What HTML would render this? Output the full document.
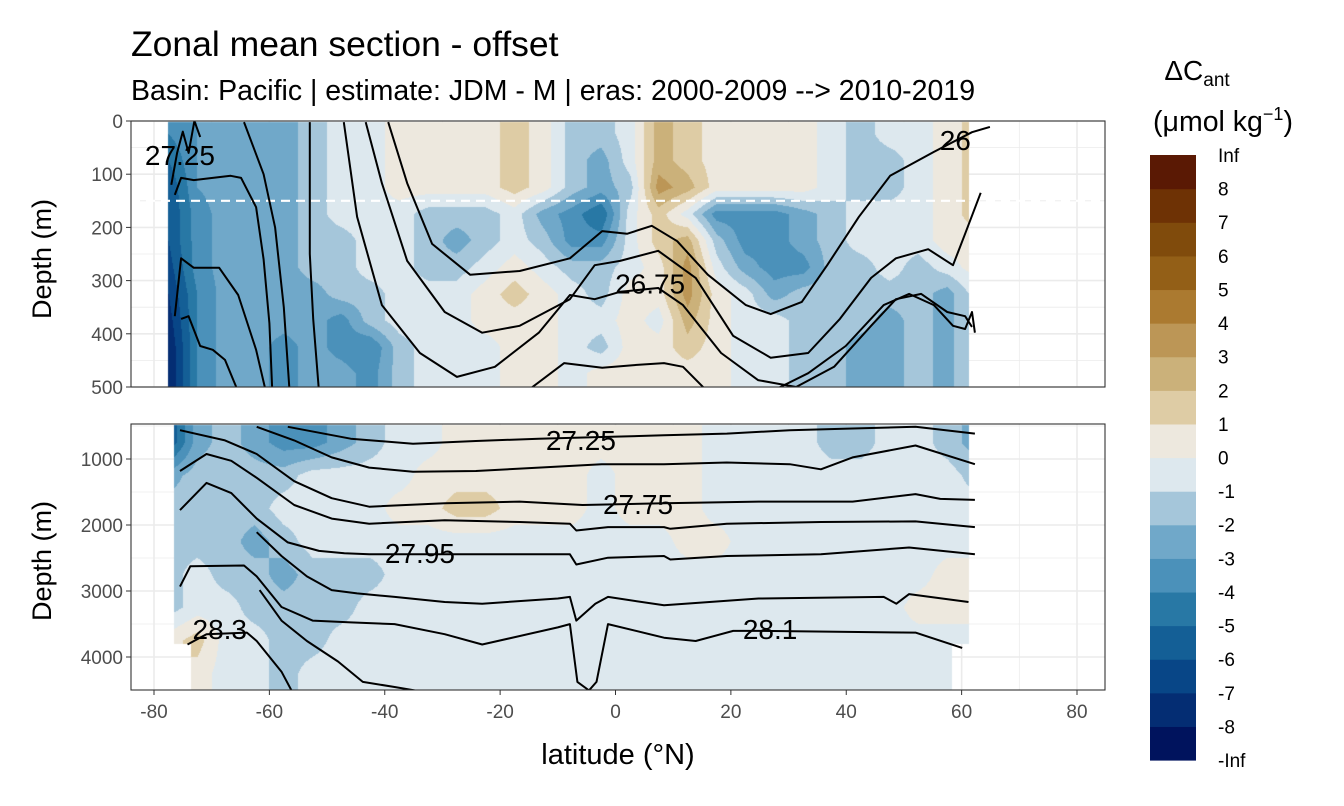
<!DOCTYPE html>
<html><head><meta charset="utf-8">
<style>
body{margin:0;background:#fff;}
#wrap{position:relative;width:1344px;height:806px;overflow:hidden;font-family:"Liberation Sans",sans-serif;}
svg,canvas{position:absolute;left:0;top:0;}
</style></head>
<body>
<div id="wrap">
<svg id="bg" width="1344" height="806"></svg>
<canvas id="cv" width="1344" height="806"></canvas>
<svg id="fg" width="1344" height="806">
<text x="131" y="56" font-size="35.5" fill="#000">Zonal mean section - offset</text>
<text x="131" y="100" font-size="28.5" fill="#000">Basin: Pacific | estimate: JDM - M | eras: 2000-2009 --&gt; 2010-2019</text>
<text x="618" y="764" font-size="29" text-anchor="middle" fill="#000">latitude (°N)</text>
<text transform="translate(51,259) rotate(-90)" font-size="27" text-anchor="middle" fill="#000">Depth (m)</text>
<text transform="translate(51,561) rotate(-90)" font-size="27" text-anchor="middle" fill="#000">Depth (m)</text>
<text x="1197" y="80" font-size="28" text-anchor="middle" fill="#000">ΔC<tspan font-size="19" dy="6">ant</tspan></text>
<text x="1223" y="131" font-size="28.5" text-anchor="middle" fill="#000">(μmol kg<tspan font-size="18" dy="-11">−1</tspan><tspan dy="11">)</tspan></text>
</svg>
</div>
<script>
const NS="http://www.w3.org/2000/svg";
// ---- data ----
const lats=[-77.5,-72.5,-67.5,-62.5,-57.5,-52.5,-47.5,-42.5,-37.5,-32.5,-27.5,-22.5,-17.5,-12.5,-7.5,-2.5,2.5,7.5,12.5,17.5,22.5,27.5,32.5,37.5,42.5,47.5,52.5,57.5,62.5];
const topDepths=[25,75,125,175,225,275,325,375,425,475];
const topValues=[
[-4,-3,-2,-2.5,-2.5,-1.5,-0.5,-0.5,0.5,0.5,0.5,0.5,1.5,0.5,-1.5,-1.5,-0.5,2.5,1.5,0.5,0.5,0.5,0.5,-0.5,-1.5,-0.5,-0.5,0.5,1.5],
[-5,-3,-2.5,-2.5,-2.5,-1.5,-0.5,-0.5,0.5,0.5,0.5,0.5,1.5,0.5,-1.5,-2.5,-0.5,2.5,1.5,0.5,0.5,0.5,0.5,-0.5,-1.5,-1.5,-0.5,0.5,1.5],
[-6,-3,-2.5,-2.5,-2.5,-1.5,-0.5,-0.5,0.5,0.5,0.5,0.5,1.5,0.5,-1.5,-2.5,-1.5,3.5,2.5,0.5,0.5,0.5,0.5,-0.5,-1.5,-1.5,-0.5,0.5,1.5],
[-6,-3.5,-2.5,-2.5,-2.5,-1.5,-0.5,-0.5,-0.5,-1.5,-1.5,-1.5,-0.5,-2.5,-3.5,-5,-0.5,1.5,-0.5,-3.5,-3.5,-3.5,-2.5,-1.5,-0.5,-0.5,-0.5,0.5,1.5],
[-6,-3.5,-2.5,-2.5,-2.5,-1.5,-1.5,-0.5,-0.5,-1.5,-2.5,-1.5,-0.5,-1.5,-3.5,-3.5,-0.5,1.5,2.5,-1.5,-3.5,-3.5,-2.5,-1.5,-0.5,-0.5,-0.5,0.5,0.5],
[-6.5,-3.5,-2.5,-2.5,-2.5,-1.5,-1.5,-0.5,-0.5,-1.5,-1.5,-0.5,0.5,-0.5,-1.5,-1.5,-0.5,0.5,3.5,-0.5,-2.5,-3.5,-3.5,-1.5,-1.5,-0.5,-1.5,-0.5,0.5],
[-7,-4,-2.5,-2.5,-2.5,-2.5,-1.5,-1.5,-0.5,-0.5,-0.5,0.5,1.5,0.5,-0.5,-1.5,0.5,0.5,3.5,0.5,-0.5,-2.5,-1.5,-1.5,-1.5,-1.5,-1.5,-2.5,-0.5],
[-7.5,-4,-2.5,-2.5,-2.5,-2.5,-3.5,-1.5,-0.5,-0.5,-0.5,0.5,0.5,0.5,-0.5,-0.5,0.5,-0.5,2.5,0.5,-0.5,-0.5,-1.5,-1.5,-1.5,-2.5,-1.5,-2.5,-0.5],
[-8,-4,-2.5,-2.5,-3.5,-2.5,-3.5,-4,-1.5,-0.5,-0.5,-0.5,0.5,0.5,-0.5,-1.5,0.5,0.5,1.5,0.5,-0.5,-0.5,-1.5,-1.5,-2.5,-2.5,-1.5,-2.5,-0.5],
[-8,-4,-2.5,-2.5,-3.5,-2.5,-2.5,-3.5,-1.5,-0.5,-0.5,-0.5,0.5,0.5,-0.5,0.5,0.5,0.5,0.5,0.5,-0.5,-0.5,-1.5,-1.5,-2.5,-2.5,-1.5,-2.5,-0.5]];
const botDepths=[750,1250,1750,2250,2750,3250,3750,4250];
const botValues=[
[-6,-2.5,-1.5,-2.5,-3.5,-3.5,-2.5,-1.5,-0.5,-0.5,0.5,0.5,0.5,0.5,0.5,0.5,0.5,0.5,0.5,-0.5,-0.5,-0.5,-0.5,-1.5,-1.5,-0.5,-0.5,-1.5,-2.5],
[-2.5,-1.5,-1.5,-1.5,-1.5,-0.5,-0.5,-0.5,-0.5,0.5,0.5,0.5,0.5,0.5,0.5,-0.5,0.5,0.5,0.5,-0.5,-0.5,-0.5,-0.5,-0.5,-0.5,-0.5,-0.5,-0.5,-1.5],
[-1.5,-1.5,-1.5,-1.5,-0.5,-0.5,-0.5,-0.5,0.5,0.5,1.5,1.5,0.5,0.5,0.5,-0.5,0.5,0.5,0.5,-0.5,-0.5,-0.5,-0.5,-0.5,-0.5,-0.5,-0.5,-0.5,-0.5],
[-1.5,-1.5,-1.5,-2.5,-1.5,-0.5,-0.5,-0.5,-0.5,-0.5,-0.5,-0.5,-0.5,-0.5,-0.5,-0.5,-0.5,-0.5,0.5,0.5,-0.5,-0.5,-0.5,-0.5,-0.5,-0.5,-0.5,-0.5,-0.5],
[-1.5,-0.5,-1.5,-1.5,-2.5,-1.5,-1.5,-1.5,-0.5,-0.5,-0.5,-0.5,-0.5,-0.5,-0.5,-0.5,-0.5,-0.5,-0.5,-0.5,-0.5,-0.5,-0.5,-0.5,-0.5,-0.5,-0.5,0.5,0.5],
[-1.5,-0.5,-0.5,-1.5,-1.5,-1.5,-1.5,-0.5,-0.5,-0.5,-0.5,-0.5,-0.5,-0.5,-0.5,-0.5,-0.5,-0.5,-0.5,-0.5,-0.5,-0.5,-0.5,-0.5,-0.5,-0.5,0.5,0.5,0.5],
[0.5,1.5,-0.5,-0.5,-1.5,-1.5,-0.5,-0.5,-0.5,-0.5,-0.5,-0.5,-0.5,-0.5,-0.5,-0.5,-0.5,-0.5,-0.5,-0.5,-0.5,-0.5,-0.5,-0.5,-0.5,-0.5,-0.5,-0.5,-0.5],
[1.5,0.5,-0.5,-0.5,-1.5,-0.5,-0.5,-0.5,-0.5,-0.5,-0.5,-0.5,-0.5,-0.5,-0.5,-0.5,-0.5,-0.5,-0.5,-0.5,-0.5,-0.5,-0.5,-0.5,-0.5,-0.5,-0.5,-0.5,-0.5]];
const legendLabels=["Inf","8","7","6","5","4","3","2","1","0","-1","-2","-3","-4","-5","-6","-7","-8","-Inf"];
const xTicks=[-80,-60,-40,-20,0,20,40,60,80];
const yTicksTop=[0,100,200,300,400,500];
const yTicksBot=[1000,2000,3000,4000];
// contours top panel
const tA_lat=[-39.4,-36.1,-31.8,-25.2,-16.6,-7.9,-2.3,2.0,6.3,10.7,16.0,22.6,26.9,32.3,36.7,42.2,47.6,55.2,61.8,64.9];
const tA_dep=[2,117,231,289,282,258,207,212,197,226,289,346,363,340,271,180,103,58,21,11];
const tB_lat=[-43.3,-40.5,-36.1,-29.6,-23.1,-16.6,-7.9,-3.6,0.8,7.4,13.9,20.4,26.9,33.4,38.9,44.3,48.6,54.2,58.5,60.6,63.3];
const tB_dep=[2,117,263,359,398,385,335,271,263,244,295,404,445,436,372,295,258,241,271,212,135];
const tC_lat=[-47.1,-44.8,-40.5,-33.9,-27.5,-20.9,-13.3,-7.9,-3.6,0.8,7.4,11.7,18.3,24.7,31.3,37.9,44.3,48.6,53.0,57.5,60.6,61.8];
const tC_dep=[2,180,346,436,481,462,398,327,335,321,314,346,436,487,500,462,385,335,325,359,367,387];
const tD_lat=[-15.5,-8.9,-2.3,3.0,8.4,11.7,16.0];
const tD_dep=[509,455,464,459,455,462,509];
const tE_lat=[26.9,33.4,39.9,46.5,50.9,55.2,58.5,60.6,61.8,62.3];
const tE_dep=[509,474,423,346,325,346,385,391,359,398];
const tL0a_lat=[-76.4,-75.3,-73.1,-66.7,-64.9,-62.3,-61,-60,-59.5];
const tL0a_dep=[139,107,111,103,107,162,260,380,509];
const tL1_lat=[-64.4,-61,-59,-57.5,-56.5];
const tL1_dep=[2,100,200,350,509];
const tL2_lat=[-53,-53,-52.4,-51.4];
const tL2_dep=[2,250,372,509];
const tL0b_lat=[-76.4,-75.3,-73.1,-68.7,-65.4,-62.3,-60.6];
const tL0b_dep=[367,258,276,276,327,430,509];
const tL0c_lat=[-75.3,-74,-72,-69.8,-67.7,-65.4];
const tL0c_dep=[372,367,423,430,449,509];
const tTL_lat=[-77,-76,-75,-74,-73,-72];
const tTL_dep=[120,60,20,60,0,30];
// contours bottom panel
const b1_lat=[-56.8,-45.9,-35.1,-24.2,-13.3,-2.4,8.4,19.3,30.2,41.1,52.0,62.3];
const b1_dep=[512,692,770,728,692,667,641,615,564,538,512,615];
const b2_lat=[-62.2,-55.7,-49.2,-42.7,-35.1,-24.2,-13.3,-2.4,8.4,19.3,30.2,35.6,41.1,52.0,62.3];
const b2_dep=[512,718,976,1130,1192,1182,1130,1079,1079,1053,1079,1156,976,795,1079];
const b3_lat=[-75.5,-67.7,-62.2,-55.7,-49.2,-42.7,-29.6,-16.6,-5.7,8.4,24.8,41.1,52.0,56.3,62.3];
const b3_dep=[564,718,924,1337,1594,1723,1671,1646,1697,1671,1646,1646,1532,1604,1620];
const b4_lat=[-75.5,-70.9,-66.6,-62.2,-55.7,-49.2,-42.7,-29.6,-16.6,-7.9,-6.8,-1.3,8.4,9.5,19.3,35.6,52.0,62.3];
const b4_dep=[1182,924,1027,1285,1697,1903,1981,1929,1955,1981,2084,2032,2032,2058,1981,1955,1945,2032];
const b5_lat=[-75.5,-70.9,-66.6,-62.2,-56.8,-51.4,-47.0,-42.7,-29.6,-7.9,-6.8,-1.3,8.4,9.5,19.3,35.6,50.9,62.3];
const b5_dep=[1775,1362,1517,1903,2264,2393,2429,2444,2444,2444,2599,2496,2470,2522,2470,2444,2341,2444];
const b6_lat=[-62.2,-57.9,-53.5,-49.2,-44.8,-38.3,-29.6,-23.1,-10.0,-7.9,-6.8,-3.5,-1.3,8.4,24.8,46.5,48.7,50.9,61.2];
const b6_dep=[2109,2470,2779,2986,3037,3089,3166,3192,3114,3089,3449,3192,3089,3217,3114,3089,3192,3047,3166];
const b7_lat=[-75.5,-73.7,-64.4,-62.2,-57.9,-52.5,-45.9,-38.3,-29.6,-23.1,-10.0,-7.9,-6.6,-4.6,-3.3,-1.3,8.4,13.9,20.4,24.8,52.0,60.1];
const b7_dep=[2934,2625,2614,2779,3243,3449,3475,3501,3655,3810,3552,3501,4377,4506,4377,3501,3707,3758,3604,3604,3630,3862];
const b8_lat=[-74.2,-70.9,-63.9,-62.2,-57.9,-55.7];
const b8_dep=[3810,3655,3630,3758,4222,4583];
const b9_lat=[-61.7,-57.9,-53.5,-48.1,-43.8,-38.3,-29.6];
const b9_dep=[2986,3449,3758,4068,4377,4454,4583];
// contour label text and positions (lat, depth)
const topLabels=["27.25","26","26.75"];
const topLabelLat=[-75.5,58.9,6.0];
const topLabelDep=[64,36,305];
const botLabels=["27.25","27.75","27.95","28.3","28.1"];
const botLabelLat=[-6.0,3.9,-33.9,-68.6,26.8];
const botLabelDep=[712,1682,2424,3576,3576];
// ---- scales ----
const X=lat=>154+(lat+80)*5.76875;
const Xinv=x=>(x-154)/5.76875-80;
const YT=d=>121+d*266/500;
const YTinv=y=>(y-121)*500/266;
const YB=d=>459+(d-1000)*198/3000;
const YBinv=y=>1000+(y-459)*3000/198;
const PL=131,PR=1105,T1=121,T2=387,B1=424,B2=690;
const cols=[[0,19,93],[4,45,115],[8,70,135],[20,95,150],[40,120,165],[75,145,186],[112,168,201],[165,198,218],[221,232,238],[237,232,222],[222,204,165],[203,177,122],[188,150,86],[171,122,48],[147,95,23],[128,75,12],[110,50,5],[90,25,4]];
function colorOf(v){let i=Math.floor(v)+9;if(i<0)i=0;if(i>17)i=17;return cols[i];}
function sample(vals,depths,lat,d){
  let fi=(lat-lats[0])/5;fi=Math.max(0,Math.min(lats.length-1,fi));
  let fj=(d-depths[0])/(depths[1]-depths[0]);fj=Math.max(0,Math.min(depths.length-1,fj));
  const i0=Math.floor(fi),j0=Math.floor(fj),i1=Math.min(i0+1,lats.length-1),j1=Math.min(j0+1,depths.length-1);
  const a=fi-i0,b=fj-j0;
  return vals[j0][i0]*(1-a)*(1-b)+vals[j0][i1]*a*(1-b)+vals[j1][i0]*(1-a)*b+vals[j1][i1]*a*b;
}
// ---- background grid ----
const bg=document.getElementById('bg');
function el(par,tag,attrs){const e=document.createElementNS(NS,tag);for(const k in attrs)e.setAttribute(k,attrs[k]);par.appendChild(e);return e;}
[[T1,T2],[B1,B2]].forEach(([t,b],pi)=>{
  const r=el(bg,'rect',{x:PL,y:t,width:PR-PL,height:b-t,fill:'#fff'});
  
  
  for(let lat=-80;lat<=80;lat+=10){
    const g=el(bg,'line',{x1:X(lat),x2:X(lat),y1:t,y2:b,stroke:'#ebebeb','stroke-width':lat%20===0?1.6:0.8});
    
    
  }
});
for(let d=0;d<=500;d+=50){const g=el(bg,'line',{x1:PL,x2:PR,y1:YT(d),y2:YT(d),stroke:'#ebebeb','stroke-width':d%100===0?1.6:0.8});
  
  }
for(let d=500;d<=4500;d+=500){const g=el(bg,'line',{x1:PL,x2:PR,y1:YB(d),y2:YB(d),stroke:'#ebebeb','stroke-width':d%1000===0?1.6:0.8});
  
  }
// ---- heatmap ----
const ctx=document.getElementById('cv').getContext('2d');
const img=ctx.createImageData(1344,806);
function px(x,y,c){const k=(y*1344+x)*4;img.data[k]=c[0];img.data[k+1]=c[1];img.data[k+2]=c[2];img.data[k+3]=255;}
for(let y=T1+1;y<T2;y++){const d=YTinv(y+0.5);
  for(let x=Math.round(X(-77.5));x<Math.round(X(61.3));x++){px(x,y,colorOf(sample(topValues,topDepths,Xinv(x+0.5),d)));}}
for(let y=B1+1;y<B2;y++){const d=YBinv(y+0.5);
  const x0=d>3800?X(-73.6):X(-76.5), x1=d>3800?X(58.3):X(61.3);
  for(let x=Math.round(x0);x<Math.round(x1);x++){px(x,y,colorOf(sample(botValues,botDepths,Xinv(x+0.5),d)));}}
ctx.putImageData(img,0,0);
// ---- overlay ----
const fg=document.getElementById('fg');
const dash=el(fg,'line',{x1:PL,x2:PR,y1:YT(150),y2:YT(150),stroke:'#fff','stroke-width':2.2,'stroke-dasharray':'9,6'});


const clipT=el(fg,'clipPath',{id:'ct'});el(clipT,'rect',{x:PL,y:T1,width:PR-PL,height:T2-T1});
const clipB=el(fg,'clipPath',{id:'cb'});el(clipB,'rect',{x:PL,y:B1,width:PR-PL,height:B2-B1});
function contour(la,de,Y,clip,name){
  const p=la.map((v,i)=>(i?'L':'M')+X(v).toFixed(1)+','+Y(de[i]).toFixed(1)).join('');
  const e=el(fg,'path',{d:p,fill:'none',stroke:'#000','stroke-width':2,'stroke-linejoin':'round','clip-path':'url(#'+clip+')'});
  
  
}
contour(tA_lat,tA_dep,YT,'ct','isopycnal-top-a');
contour(tB_lat,tB_dep,YT,'ct','isopycnal-top-b');
contour(tC_lat,tC_dep,YT,'ct','isopycnal-top-c');
contour(tD_lat,tD_dep,YT,'ct','isopycnal-top-d');
contour(tE_lat,tE_dep,YT,'ct','isopycnal-top-e');
contour(tL0a_lat,tL0a_dep,YT,'ct','isopycnal-top-l0a');
contour(tL1_lat,tL1_dep,YT,'ct','isopycnal-top-l1');
contour(tL2_lat,tL2_dep,YT,'ct','isopycnal-top-l2');
contour(tL0b_lat,tL0b_dep,YT,'ct','isopycnal-top-l0b');
contour(tL0c_lat,tL0c_dep,YT,'ct','isopycnal-top-l0c');
contour(tTL_lat,tTL_dep,YT,'ct','isopycnal-top-corner');
contour(b1_lat,b1_dep,YB,'cb','isopycnal-bottom-1');
contour(b2_lat,b2_dep,YB,'cb','isopycnal-bottom-2');
contour(b3_lat,b3_dep,YB,'cb','isopycnal-bottom-3');
contour(b4_lat,b4_dep,YB,'cb','isopycnal-bottom-4');
contour(b5_lat,b5_dep,YB,'cb','isopycnal-bottom-5');
contour(b6_lat,b6_dep,YB,'cb','isopycnal-bottom-6');
contour(b7_lat,b7_dep,YB,'cb','isopycnal-bottom-7');
contour(b8_lat,b8_dep,YB,'cb','isopycnal-bottom-8');
contour(b9_lat,b9_dep,YB,'cb','isopycnal-bottom-9');
function label(txt,x,y){const t=el(fg,'text',{x:x,y:y+10,'font-size':28,'text-anchor':'middle',fill:'#000'});t.textContent=txt;
  
  }
topLabels.forEach((s,i)=>label(s,X(topLabelLat[i]),YT(topLabelDep[i])));
botLabels.forEach((s,i)=>label(s,X(botLabelLat[i]),YB(botLabelDep[i])));
// borders & ticks
[[T1,T2],[B1,B2]].forEach(([t,b])=>{const r=el(fg,'rect',{x:PL,y:t,width:PR-PL,height:b-t,fill:'none',stroke:'#333','stroke-width':1.1});
  
  });
xTicks.forEach(v=>{el(fg,'line',{x1:X(v),x2:X(v),y1:B2,y2:B2+5,stroke:'#333'});
  const t=el(fg,'text',{x:X(v),y:B2+28,'font-size':19,'text-anchor':'middle',fill:'#4d4d4d'});t.textContent=v;
  
  });
yTicksTop.forEach(v=>{el(fg,'line',{x1:PL-5,x2:PL,y1:YT(v),y2:YT(v),stroke:'#333'});
  const t=el(fg,'text',{x:PL-8,y:YT(v)+7,'font-size':19,'text-anchor':'end',fill:'#4d4d4d'});t.textContent=v;
  
  });
yTicksBot.forEach(v=>{el(fg,'line',{x1:PL-5,x2:PL,y1:YB(v),y2:YB(v),stroke:'#333'});
  const t=el(fg,'text',{x:PL-8,y:YB(v)+7,'font-size':19,'text-anchor':'end',fill:'#4d4d4d'});t.textContent=v;
  
  });
// legend
const LT=155,LB=760,LX=1150,LW=46,n=cols.length,h=(LB-LT)/n;
for(let i=0;i<n;i++){const r=el(fg,'rect',{x:LX,y:LT+(n-1-i)*h,width:LW,height:h+0.6,fill:'rgb('+cols[i].join(',')+')'});
  
  }
legendLabels.forEach((s,i)=>{const t=el(fg,'text',{x:1218,y:LT+i*h+7,'font-size':19,fill:'#000'});t.textContent=s;
  
  });
</script>
</body></html>
